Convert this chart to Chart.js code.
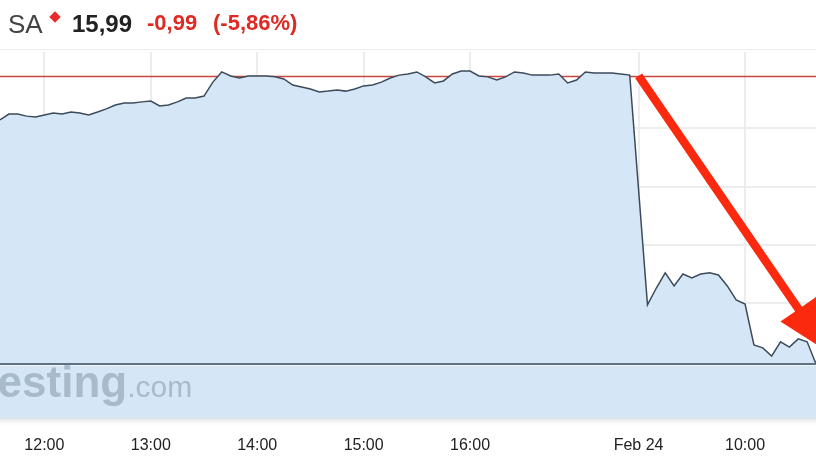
<!DOCTYPE html>
<html>
<head>
<meta charset="utf-8">
<script src="https://cdn.jsdelivr.net/npm/chart.js@4.4.1/dist/chart.umd.min.js"></script>
<style>
  html, body { margin: 0; padding: 0; background: #fff; }
  body { width: 816px; height: 459px; position: relative; overflow: hidden;
         font-family: "Liberation Sans", Arial, Helvetica, sans-serif; }
  #chart { position: absolute; left: 0; top: 0; }
  #header { position: absolute; left: 0; top: 0; width: 816px; height: 49px; border-bottom: 1px solid #ececec; }
  #header span { position: absolute; white-space: nowrap; }
  .sym { left: 8px; top: 11px; font-size: 26px; line-height: 26px; color: #444; }
  .mark { left: 51px; top: 13px; width: 8px; height: 8px; background: #ea2a2a; transform: rotate(45deg); }
  .last { left: 72px; top: 12px; font-size: 24px; line-height: 24px; font-weight: bold; color: #222; }
  .chg { top: 12px; font-size: 22px; line-height: 22px; font-weight: bold; color: #de2a22; }
  #watermark { position: absolute; left: -66px; top: 360px; font-size: 44px; line-height: 44px;
               font-weight: bold; color: rgba(110, 132, 155, 0.45); white-space: nowrap; }
  #watermark small { font-size: 30px; font-weight: normal; }
</style>
</head>
<body>
<canvas id="chart" width="816" height="459"></canvas>
<div id="header">
  <span class="sym">SA</span>
  <span class="mark"></span>
  <span class="last">15,99</span>
  <span class="chg" style="left:147px">-0,99</span>
  <span class="chg" style="left:213px">(-5,86%)</span>
</div>
<div id="watermark">Investing<small>.com</small></div>
<script>
// 5-minute bars, Feb 23 afternoon + Feb 24 morning
function buildTimes(h0, m0, h1, m1) {
    const out = [];
    for (let t = h0 * 60 + m0; t <= h1 * 60 + m1; t += 5) {
        out.push(String(Math.floor(t / 60)).padStart(2, '0') + ':' + String(t % 60).padStart(2, '0'));
    }
    return out;
}
const times = [...buildTimes(11, 35, 17, 30), 'Feb 24', ...buildTimes(9, 5, 10, 40)];

const prices = [
    16.829, 16.849, 16.849, 16.842, 16.839, 16.846, 16.853, 16.849, 16.856, 16.853,
    16.846, 16.856, 16.867, 16.880, 16.887, 16.887, 16.891, 16.894, 16.877, 16.880,
    16.891, 16.904, 16.904, 16.911, 16.959, 16.994, 16.980, 16.973, 16.980, 16.980,
    16.980, 16.977, 16.970, 16.949, 16.942, 16.935, 16.925, 16.928, 16.932, 16.928,
    16.935, 16.946, 16.949, 16.959, 16.973, 16.983, 16.987, 16.994, 16.977, 16.956,
    16.963, 16.987, 16.997, 16.997, 16.980, 16.977, 16.966, 16.977, 16.994, 16.990,
    16.983, 16.983, 16.983, 16.987, 16.956, 16.966, 16.994, 16.990, 16.990, 16.990,
    16.987, 16.983,
    null,
    16.193, 16.251, 16.303, 16.258, 16.299, 16.286, 16.299, 16.303, 16.296, 16.258,
    16.210, 16.196, 16.055, 16.045, 16.017, 16.066, 16.048, 16.076, 16.066, 15.990
];

const tickLabels = ['12:00', '13:00', '14:00', '15:00', '16:00', 'Feb 24', '10:00'];
const prevClose = 16.98;
const lastPrice = 15.99;
const FONT = '"Liberation Sans", Arial, Helvetica, sans-serif';
const GRID = '#ededed';

const refLines = {
    id: 'refLines',
    beforeDatasetsDraw(chart) {
        const { ctx, chartArea: a, scales: { y } } = chart;
        const py = Math.round(y.getPixelForValue(prevClose)) + 0.5;
        ctx.save();
        ctx.strokeStyle = '#c9453f';
        ctx.lineWidth = 1.5;
        ctx.beginPath();
        ctx.moveTo(a.left, py);
        ctx.lineTo(a.right, py);
        ctx.stroke();
        ctx.restore();
    },
    afterDatasetsDraw(chart) {
        const { ctx, chartArea: a, scales: { y } } = chart;
        const py = Math.round(y.getPixelForValue(lastPrice));
        ctx.save();
        ctx.fillStyle = '#5f7285';
        ctx.fillRect(a.left, py - 1, a.right - a.left, 2);
        ctx.fillStyle = 'rgba(255,255,255,0.6)';
        ctx.fillRect(a.left, py + 1, a.right - a.left, 1);
        // soft shadow under the plot, above the time axis
        const g = ctx.createLinearGradient(0, a.bottom, 0, a.bottom + 9);
        g.addColorStop(0, '#dfe1e3');
        g.addColorStop(1, 'rgba(255,255,255,0)');
        ctx.fillStyle = g;
        ctx.fillRect(a.left, a.bottom, a.right - a.left, 9);
        ctx.restore();
    },
    afterDraw(chart) {
        // big red arrow from the day break down past the last price
        const { ctx, chartArea: a, scales: { x, y } } = chart;
        const sx = x.getPixelForValue(times.indexOf('Feb 24'));
        const sy = y.getPixelForValue(prevClose);
        const tx = a.right + 12;
        const ty = y.getPixelForValue(lastPrice) - 12;
        const len = Math.hypot(tx - sx, ty - sy);
        const ux = (tx - sx) / len, uy = (ty - sy) / len;
        const px = uy, py = -ux;
        const headLen = 52, headW = 22, shaft = 4.2;
        const bx = tx - ux * headLen, by = ty - uy * headLen;
        ctx.save();
        ctx.fillStyle = '#fb2a0e';
        ctx.beginPath();
        ctx.moveTo(sx + px * shaft, sy + py * shaft);
        ctx.lineTo(bx + px * shaft, by + py * shaft);
        ctx.lineTo(bx + px * headW, by + py * headW);
        ctx.lineTo(tx, ty);
        ctx.lineTo(bx - px * headW, by - py * headW);
        ctx.lineTo(bx - px * shaft, by - py * shaft);
        ctx.lineTo(sx - px * shaft, sy - py * shaft);
        ctx.closePath();
        ctx.fill();
        ctx.restore();
    }
};

new Chart(document.getElementById('chart'), {
    type: 'line',
    data: {
        labels: times,
        datasets: [{
            data: prices,
            borderColor: '#3c4b5b',
            borderWidth: 1.5,
            backgroundColor: '#d5e7f6',
            fill: 'start',
            pointRadius: 0,
            spanGaps: true,
            tension: 0
        }]
    },
    options: {
        responsive: false,
        animation: false,
        layout: { padding: { top: 52, left: 0, right: 0, bottom: 0 } },
        plugins: { legend: { display: false }, tooltip: { enabled: false } },
        scales: {
            x: {
                grid: { color: GRID, lineWidth: 2, drawTicks: false },
                border: { display: false },
                ticks: {
                    autoSkip: false,
                    maxRotation: 0,
                    padding: 18,
                    color: '#222',
                    font: { size: 16, family: FONT },
                    callback(value) {
                        const lab = this.getLabelForValue(value);
                        return tickLabels.includes(lab) ? lab : null;
                    }
                },
                afterFit(scale) { scale.height = 41; }
            },
            y: {
                min: 15.804,
                max: 17.0625,
                ticks: { display: false, stepSize: 0.2, includeBounds: false },
                grid: {
                    lineWidth: 2,
                    drawTicks: false,
                    color: c => (c.tick && c.tick.value < prevClose) ? GRID : 'transparent'
                },
                border: { display: false },
                afterFit(scale) { scale.width = 0; }
            }
        }
    },
    plugins: [refLines]
});
</script>
</body>
</html>
